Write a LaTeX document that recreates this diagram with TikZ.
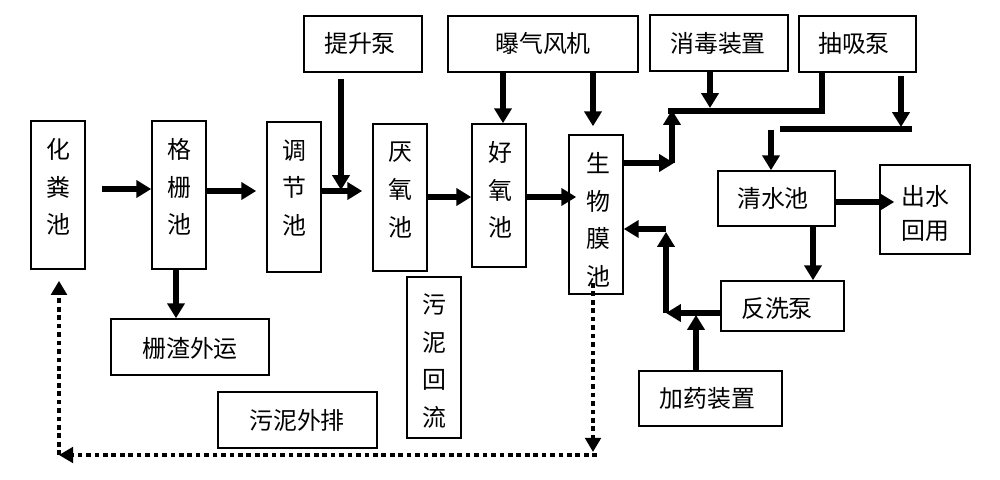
\documentclass[tikz,border=0pt]{standalone}
\usepackage{fontspec}
\newfontfamily\cjk{Noto Sans CJK SC}
\usetikzlibrary{arrows.meta,calc}
\tikzset{
  box/.style={draw, line width=1.1pt, inner sep=0pt},
  wh/.style 2 args={minimum width=#1*0.025cm, minimum height=#2*0.025cm},
  vt/.style={align=center, font=\cjk\fontsize{17}{26.7}\selectfont, inner sep=0pt},
  ht/.style={align=center, font=\cjk\fontsize{17}{23.5}\selectfont, inner sep=0pt},
  arr/.style={line width=3.8pt, -{Triangle[length=10.5pt,width=12pt]}},
  pipe/.style={line width=3.8pt},
  dotarr/.style={line width=3.3pt, dash pattern=on 3.3pt off 2.7pt, -{Triangle[length=10pt,width=11pt]}},
}
\begin{document}
\begin{tikzpicture}[x=0.025cm, y=-0.025cm]
\useasboundingbox (0,0) rectangle (1000,480);
% boxes
\node[box, wh={54}{148}] (hfc) at (58,195) {};
\node[vt] (hfc-t) at (58,187) {化\\粪\\池};
\node[box, wh={54}{148}] (ggc) at (179,195) {};
\node[vt] (ggc-t) at (179,187) {格\\栅\\池};
\node[box, wh={54}{150}] (tjc) at (294,197) {};
\node[vt] (tjc-t) at (294,188) {调\\节\\池};
\node[box, wh={54}{147}] (yyc) at (400,197.5) {};
\node[vt] (yyc-t) at (400,190) {厌\\氧\\池};
\node[box, wh={54}{143}] (hyc) at (499,195.5) {};
\node[vt] (hyc-t) at (500,190) {好\\氧\\池};
\node[box, wh={54}{159}] (swm) at (596,214.5) {};
\node[vt] (swm-t) at (598,220) {生\\物\\膜\\池};
\node[box, wh={158}{56}] (szwy) at (190,347) {};
\node[ht] (szwy-t) at (190,348) {栅渣外运};
\node[box, wh={159}{56}] (wnwp) at (297.5,420) {};
\node[ht] (wnwp-t) at (297,420) {污泥外排};
\node[box, wh={54}{161}] (wnhl) at (434,357.5) {};
\node[vt] (wnhl-t) at (434,361) {污\\泥\\回\\流};
\node[box, wh={118}{56}] (tsb) at (363,44) {};
\node[ht] (tsb-t) at (360,43) {提升泵};
\node[box, wh={190}{56}] (bqfj) at (543,44) {};
\node[ht] (bqfj-t) at (543,43) {曝气风机};
\node[box, wh={138}{56}] (xdzz) at (719,43) {};
\node[ht] (xdzz-t) at (718,43) {消毒装置};
\node[box, wh={117}{56}] (cxb) at (857.5,44) {};
\node[ht] (cxb-t) at (854,43) {抽吸泵};
\node[box, wh={117}{55}] (qsc) at (776.5,198.5) {};
\node[ht] (qsc-t) at (773,198) {清水池};
\node[box, wh={90}{89}] (cshy) at (925,209.5) {};
\node[ht] (cshy-t) at (925,213.5) {出水\\回用};
\node[box, wh={123}{50}] (fxb) at (782.5,306) {};
\node[ht] (fxb-t) at (777,308) {反洗泵};
\node[box, wh={143}{55}] (jyzz) at (710.5,398.5) {};
\node[ht] (jyzz-t) at (707.5,398) {加药装置};
% helper coordinates
\coordinate (j1) at (341,190);
\coordinate (m1) at (674,163);
\coordinate (m2) at (672,163);
\coordinate (m3) at (672,110);
\coordinate (m4) at (668,111);
\coordinate (m5) at (822,111);
\coordinate (m6) at (710,108);
\coordinate (r1) at (901,127);
\coordinate (r2) at (780,129);
\coordinate (r3) at (912,129);
\coordinate (r4) at (771,130);
\coordinate (n1) at (666,313);
\coordinate (n2) at (666,232);
\coordinate (n3) at (666,229);
\coordinate (n4) at (696,315);
\coordinate (d1) at (593,283);
\coordinate (d2) at (593,452);
\coordinate (d3) at (597,455);
\coordinate (d4) at (59,455);
% main flow
\draw[arr, shorten <=0.4cm] (hfc.east |- 0,189) -- (ggc.west |- 0,189);
\draw[arr, shorten >=0.25cm] (ggc.east |- 0,191) -- (tjc.west |- 0,191);
\draw[arr, shorten >=0.25cm] (tjc.east |- 0,191) -- (yyc.west |- 0,191);
\draw[arr, shorten <=0.15cm] (tsb.south -| j1) -- (j1);
\draw[arr] (yyc.east |- 0,197) -- (hyc.west |- 0,197);
\draw[arr, shorten >=-0.2cm] (hyc.east |- 0,197) -- (swm.west |- 0,197);
\draw[arr] (bqfj.south -| 503,0) -- (hyc.north -| 503,0);
\draw[arr, shorten >=0.2cm] (bqfj.south -| 593,0) -- (swm.north -| 593,0);
\draw[arr] (ggc.south -| 176,0) -- (szwy.north -| 176,0);
% outlet to pumps
\draw[arr] (swm.east |- m1) -- (m1);
\draw[arr] (m2) -- (m3);
\draw[pipe] (m4) -- (m5) -- (cxb.south -| m5);
\draw[arr] (xdzz.south -| m6) -- (m6);
\draw[arr, shorten <=0.075cm] (cxb.south -| r1) -- (r1);
\draw[pipe] (r2) -- (r3);
\draw[arr] (r4) -- (qsc.north -| r4);
\draw[arr, shorten >=-0.375cm] (qsc.east |- 0,202) -- (cshy.west |- 0,202);
\draw[arr] (qsc.south -| 813,0) -- (fxb.north -| 813,0);
% backwash
\draw[arr] (fxb.west |- n1) -- (n1);
\draw[arr] (n1) -- (n2);
\draw[arr] (n3) -- (swm.east |- n3);
\draw[arr] (jyzz.north -| n4) -- (n4);
% sludge
\draw[dotarr] (d1) -- (d2);
\draw[dotarr] (d3) -- (d4);
\draw[dotarr, shorten >=0.275cm] (d4) -- (hfc.south -| d4);
\end{tikzpicture}
\end{document}
